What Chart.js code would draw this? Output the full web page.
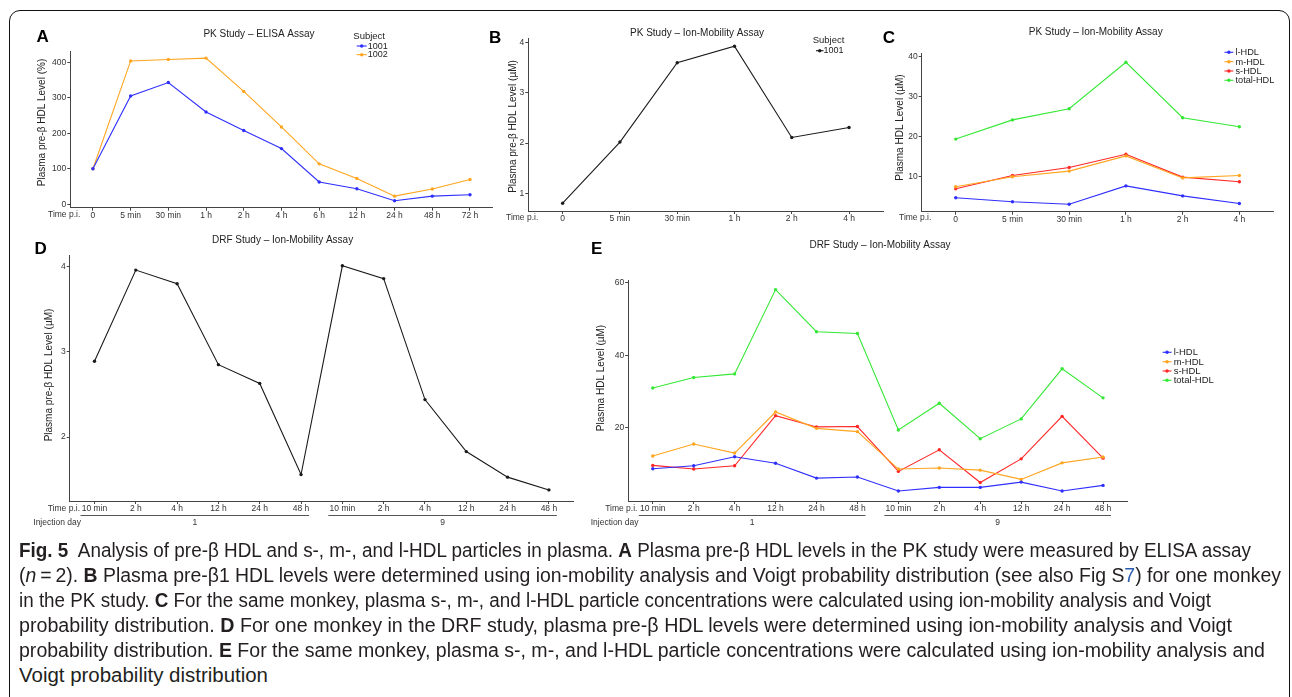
<!DOCTYPE html>
<html><head><meta charset="utf-8">
<script src="https://cdn.jsdelivr.net/npm/chart.js@4.4.1/dist/chart.umd.min.js"></script>
<style>
html,body{margin:0;padding:0;background:#fff;width:1292px;height:697px;overflow:hidden;position:relative;}
#frame{position:absolute;left:9px;top:10px;width:1281px;height:820px;border:1px solid #111;border-radius:11px;box-sizing:border-box;}
canvas{position:absolute;left:0;top:0;}
.cap{position:absolute;left:19px;font-family:'Liberation Sans Narrow','Liberation Sans',Arial,sans-serif;font-size:20px;line-height:20px;white-space:nowrap;transform-origin:0 0;color:#231f20;}
.cap b{font-weight:bold;}
.lnk{color:#2a5db0;}
</style></head><body>
<div id="frame"></div>
<canvas id="cA" width="1292" height="540"></canvas>
<canvas id="cB" width="1292" height="540"></canvas>
<canvas id="cC" width="1292" height="540"></canvas>
<canvas id="cD" width="1292" height="540"></canvas>
<canvas id="cE" width="1292" height="540"></canvas>
<div class="cap" style="top:540px"><b>Fig. 5</b>&nbsp; Analysis of pre-β HDL and s-, m-, and l-HDL particles in plasma. <b>A</b> Plasma pre-β HDL levels in the PK study were measured by ELISA assay</div>
<div class="cap" style="top:565px">(<i>n</i>&thinsp;=&thinsp;2). <b>B</b> Plasma pre-β1 HDL levels were determined using ion-mobility analysis and Voigt probability distribution (see also Fig S<span class="lnk">7</span>) for one monkey</div>
<div class="cap" style="top:590px">in the PK study. <b>C</b> For the same monkey, plasma s-, m-, and l-HDL particle concentrations were calculated using ion-mobility analysis and Voigt</div>
<div class="cap" style="top:615px">probability distribution. <b>D</b> For one monkey in the DRF study, plasma pre-β HDL levels were determined using ion-mobility analysis and Voigt</div>
<div class="cap" style="top:640px">probability distribution. <b>E</b> For the same monkey, plasma s-, m-, and l-HDL particle concentrations were calculated using ion-mobility analysis and</div>
<div class="cap" style="top:665px">Voigt probability distribution</div>
<script>
// ---------- data ----------
const pkTimesA = ['0','5 min','30 min','1 h','2 h','4 h','6 h','12 h','24 h','48 h','72 h'];
const elisa1001 = [100,305,343,260,208,157,63,44,10,23,27];
const elisa1002 = [100,404,408,412,318,218,114,73,23,43,70];
const yTicksA = [0,100,200,300,400];

const pkTimesB = ['0','5 min','30 min','1 h','2 h','4 h'];
const preB1001 = [0.80,2.02,3.60,3.93,2.11,2.31];
const yTicksB = [1,2,3,4];

const lHDL_C = [4.75,3.75,3.1,7.7,5.2,3.3];
const mHDL_C = [7.5,10.0,11.4,15.2,9.7,10.3];
const sHDL_C = [7.0,10.3,12.3,15.6,9.9,8.75];
const totHDL_C = [19.4,24.2,27.0,38.6,24.75,22.5];
const yTicksC = [10,20,30,40];

const drfTimes = ['10 min','2 h','4 h','12 h','24 h','48 h','10 min','2 h','4 h','12 h','24 h','48 h'];
const injectionDays = ['1','9'];
const preB_D = [2.89,3.96,3.80,2.85,2.63,1.56,4.01,3.86,2.44,1.83,1.53,1.38];
const yTicksD = [2,3,4];

const lHDL_E = [8.8,9.6,12.1,10.3,6.2,6.5,2.65,3.65,3.65,5.1,2.65,4.2];
const mHDL_E = [12.3,15.6,13.1,24.4,19.9,19.0,8.7,9.0,8.4,5.85,10.4,12.0];
const sHDL_E = [9.7,8.7,9.6,23.4,20.3,20.4,8.05,14.0,5.0,11.5,23.2,11.7];
const totHDL_E = [31.0,33.9,34.9,58.1,46.5,46.0,19.45,26.8,17.05,22.5,36.3,28.3];
const yTicksE = [20,40,60];

const hdlNames = ['l-HDL','m-HDL','s-HDL','total-HDL'];
const subjectNames = ['1001','1002'];

// ---------- style ----------
const FONT = "'Liberation Sans', Arial, Helvetica, sans-serif";
const COL = {blue:'#2f2fff', orange:'#ffa51f', red:'#ff2626', green:'#35e835', black:'#1a1a1a'};
const AX = '#444';

function T(ctx, s, x, y, o={}) {
  ctx.save();
  ctx.font = (o.bold?'bold ':'') + (o.size||9) + 'px ' + FONT;
  ctx.fillStyle = o.color || '#222';
  ctx.textAlign = o.align || 'left';
  ctx.textBaseline = o.base || 'middle';
  ctx.translate(x,y);
  if (o.rot) ctx.rotate(o.rot);
  ctx.fillText(s,0,0);
  ctx.restore();
}
function key(ctx, x1, x2, y, color) {
  ctx.save();
  ctx.strokeStyle = color; ctx.lineWidth = 1.1;
  ctx.beginPath(); ctx.moveTo(x1,y); ctx.lineTo(x2,y); ctx.stroke();
  ctx.fillStyle = color; ctx.beginPath(); ctx.arc((x1+x2)/2,y,1.7,0,Math.PI*2); ctx.fill();
  ctx.restore();
}
function hline(ctx, x1, x2, y) {
  ctx.save(); ctx.strokeStyle = '#555'; ctx.lineWidth = 1;
  ctx.beginPath(); ctx.moveTo(x1,y); ctx.lineTo(x2,y); ctx.stroke(); ctx.restore();
}

function panel(id, g, cats, yTicks, yMin, yMax, series, tickFont, extra) {
  const YW = 40, XH = 30, H = 540, W = 1292;
  const gridOpts = { drawOnChartArea:false, drawTicks:true, tickLength:3, color:AX, lineWidth:1 };
  return new Chart(document.getElementById(id), {
    type:'line',
    data:{ datasets: series.map(s => ({
      data: s.values.map((v,i) => ({x:i, y:v})),
      borderColor:s.color, backgroundColor:s.color, pointBackgroundColor:s.color,
      pointBorderWidth:0, pointRadius:1.7, borderWidth:1.1, tension:0
    })) },
    options:{
      responsive:false, animation:false, events:[],
      layout:{ padding:{ left:g.l-YW, top:g.t, right:W-g.r, bottom:H-g.b-XH } },
      plugins:{ legend:{display:false}, tooltip:{enabled:false}, title:{display:false} },
      scales:{
        x:{ type:'linear', min:-0.6, max:cats.length-0.4,
            afterBuildTicks: a => { a.ticks = cats.map((c,i) => ({value:i})); },
            afterFit: s => { s.height = XH; },
            ticks:{ callback: v => cats[v], autoSkip:false, maxRotation:0, minRotation:0, padding:0,
                    color:'#333', font:{family:FONT, size:tickFont} },
            grid: gridOpts, border:{ display:true, color:AX, width:1 } },
        y:{ type:'linear', min:yMin, max:yMax,
            afterBuildTicks: a => { a.ticks = yTicks.map(v => ({value:v})); },
            afterFit: s => { s.width = YW; },
            ticks:{ padding:1, color:'#333', font:{family:FONT, size:tickFont} },
            grid: gridOpts, border:{ display:true, color:AX, width:1 } }
      }
    },
    plugins:[{ id:'deco_'+id, afterDraw: c => extra(c.ctx, c) }]
  });
}

// ---------- A ----------
panel('cA', {l:70.3, t:51.7, r:492.6, b:207.7}, pkTimesA, yTicksA, -9.6, 430,
  [{values:elisa1001, color:COL.blue}, {values:elisa1002, color:COL.orange}], 8.5,
  (ctx) => {
    T(ctx,'A',36.5,42,{size:17,bold:true,base:'alphabetic',color:'#000'});
    T(ctx,'PK Study – ELISA Assay',259,34,{size:10,align:'center'});
    T(ctx,'Plasma pre-β HDL Level (%)',42.7,122.5,{size:10,align:'center',rot:-Math.PI/2});
    T(ctx,'Time p.i.',48,214.5,{size:8.5,color:'#333'});
    T(ctx,'Subject',353.3,36.7,{size:9.5});
    key(ctx,356.7,366.7,46,COL.blue); T(ctx,subjectNames[0],367.7,46.3,{size:9});
    key(ctx,356.7,366.7,54.7,COL.orange); T(ctx,subjectNames[1],367.7,55,{size:9});
  });

// ---------- B ----------
panel('cB', {l:528.3, t:38.3, r:883.4, b:211}, pkTimesB, yTicksB, 0.645, 4.088,
  [{values:preB1001, color:COL.black}], 8.5,
  (ctx) => {
    T(ctx,'B',489,42.5,{size:17,bold:true,base:'alphabetic',color:'#000'});
    T(ctx,'PK Study – Ion-Mobility Assay',697,33.3,{size:10,align:'center'});
    T(ctx,'Plasma pre-β HDL Level (µM)',513.3,126.5,{size:10,align:'center',rot:-Math.PI/2});
    T(ctx,'Time p.i.',506,218,{size:8.5,color:'#333'});
    T(ctx,'Subject',812.7,40.7,{size:9.5});
    key(ctx,816,823.5,50.7,COL.black); T(ctx,subjectNames[0],823.5,51,{size:9});
  });

// ---------- C ----------
panel('cC', {l:921.7, t:53.3, r:1273.4, b:211.7}, pkTimesB, yTicksC, 1.25, 40.85,
  [{values:lHDL_C, color:COL.blue}, {values:mHDL_C, color:COL.orange},
   {values:sHDL_C, color:COL.red}, {values:totHDL_C, color:COL.green}], 8.5,
  (ctx) => {
    T(ctx,'C',882.7,42.5,{size:17,bold:true,base:'alphabetic',color:'#000'});
    T(ctx,'PK Study – Ion-Mobility Assay',1095.7,32.7,{size:10,align:'center'});
    T(ctx,'Plasma HDL Level (µM)',900,127.5,{size:10,align:'center',rot:-Math.PI/2});
    T(ctx,'Time p.i.',899,218,{size:8.5,color:'#333'});
    const cols = [COL.blue,COL.orange,COL.red,COL.green];
    [52.3,61.7,71,80.3].forEach((y,i) => { key(ctx,1224.5,1233.3,y,cols[i]); T(ctx,hdlNames[i],1235.5,y+0.3,{size:9.2}); });
  });

// ---------- D ----------
function injectionRow(ctx, c, rightX) {
  const xs = c.scales.x;
  T(ctx,'Time p.i.',rightX,508.5,{size:8.5,align:'right',color:'#333'});
  T(ctx,'Injection day',rightX+1,523,{size:8.5,align:'right',color:'#333'});
  [[0,5],[6,11]].forEach((r,i) => {
    const x1 = xs.getPixelForValue(r[0]) - 14, x2 = xs.getPixelForValue(r[1]) + 8;
    hline(ctx, x1, x2, 515.5);
    T(ctx, injectionDays[i], (x1+x2)/2, 523, {size:8.5,align:'center',color:'#333'});
  });
}
panel('cD', {l:69.7, t:255, r:573.7, b:501}, drfTimes, yTicksD, 1.25, 4.137,
  [{values:preB_D, color:COL.black}], 8.5,
  (ctx, c) => {
    T(ctx,'D',34.5,254,{size:17,bold:true,base:'alphabetic',color:'#000'});
    T(ctx,'DRF Study – Ion-Mobility Assay',282.6,240,{size:10,align:'center'});
    T(ctx,'Plasma pre-β HDL Level (µM)',49,375,{size:10,align:'center',rot:-Math.PI/2});
    injectionRow(ctx, c, 80);
  });

// ---------- E ----------
panel('cE', {l:628.2, t:280, r:1127.6, b:501}, drfTimes, yTicksE, -0.1, 60.75,
  [{values:lHDL_E, color:COL.blue}, {values:mHDL_E, color:COL.orange},
   {values:sHDL_E, color:COL.red}, {values:totHDL_E, color:COL.green}], 8.5,
  (ctx, c) => {
    T(ctx,'E',591,254,{size:17,bold:true,base:'alphabetic',color:'#000'});
    T(ctx,'DRF Study – Ion-Mobility Assay',880,245,{size:10,align:'center'});
    T(ctx,'Plasma HDL Level (µM)',601.4,378,{size:10,align:'center',rot:-Math.PI/2});
    injectionRow(ctx, c, 637.4);
    const cols = [COL.blue,COL.orange,COL.red,COL.green];
    [352.3,361.7,371,380.3].forEach((y,i) => { key(ctx,1162.6,1171.5,y,cols[i]); T(ctx,hdlNames[i],1173.7,y+0.3,{size:9.5}); });
  });

// ---------- caption fitting ----------
const capEnds = [1251,1281,1211,1232,1265,268];
document.querySelectorAll('.cap').forEach((el,i) => {
  const w = el.getBoundingClientRect().width;
  el.style.transform = 'scaleX(' + ((capEnds[i]-19)/w) + ')';
});
</script>
</body></html>
